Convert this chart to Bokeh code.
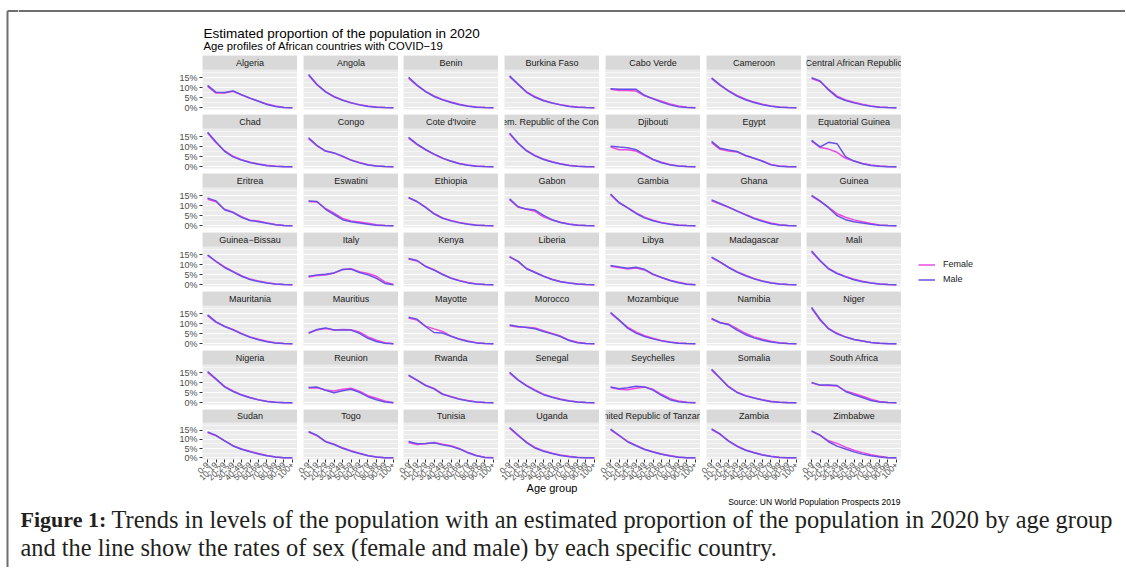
import math
from bokeh.plotting import figure
from bokeh.layouts import row, column
from bokeh.models import (Range1d, FactorRange, FixedTicker, BoxAnnotation, Grid,
                          Legend, LegendItem, PrintfTickFormatter, Span)
from bokeh.core.properties import value
from bokeh.embed import file_html
from bokeh.resources import INLINE

# ---------------- data ----------------
age_groups = ["0-9", "10-19", "20-29", "30-39", "40-49", "50-59",
              "60-69", "70-79", "80-89", "90-99", "100+"]

countries = [
    "Algeria", "Angola", "Benin", "Burkina Faso", "Cabo Verde", "Cameroon", "Central African Republic",
    "Chad", "Congo", "Cote d'Ivoire", "Dem. Republic of the Congo", "Djibouti", "Egypt", "Equatorial Guinea",
    "Eritrea", "Eswatini", "Ethiopia", "Gabon", "Gambia", "Ghana", "Guinea",
    "Guinea\u2212Bissau", "Italy", "Kenya", "Liberia", "Libya", "Madagascar", "Mali",
    "Mauritania", "Mauritius", "Mayotte", "Morocco", "Mozambique", "Namibia", "Niger",
    "Nigeria", "Reunion", "Rwanda", "Senegal", "Seychelles", "Somalia", "South Africa",
    "Sudan", "Togo", "Tunisia", "Uganda", "United Republic of Tanzania", "Zambia", "Zimbabwe",
]

algeria_f = [10.7, 7.3, 7.4, 8.2, 6.4, 4.7, 3.3, 1.8, 0.8, 0.1, 0.0]
algeria_m = [11.2, 7.7, 7.6, 8.4, 6.5, 4.8, 3.2, 1.6, 0.6, 0.1, 0.0]
angola_f = [16.2, 11.4, 8.0, 5.6, 3.9, 2.5, 1.5, 0.8, 0.3, 0.04, 0.0]
angola_m = [16.6, 11.6, 7.9, 5.4, 3.7, 2.4, 1.4, 0.6, 0.2, 0.03, 0.0]
benin_f = [14.8, 11.0, 8.2, 5.9, 4.1, 2.8, 1.7, 0.9, 0.3, 0.05, 0.0]
benin_m = [15.2, 11.3, 8.0, 5.6, 3.9, 2.6, 1.5, 0.7, 0.2, 0.03, 0.0]
burkina_f = [15.5, 11.6, 7.9, 5.5, 3.7, 2.4, 1.5, 0.8, 0.3, 0.04, 0.0]
burkina_m = [15.9, 11.8, 7.7, 5.2, 3.5, 2.3, 1.4, 0.6, 0.2, 0.03, 0.0]
caboverde_f = [9.2, 8.6, 8.6, 8.3, 5.9, 4.6, 3.2, 1.8, 0.9, 0.2, 0.0]
caboverde_m = [9.5, 9.2, 9.2, 9.2, 6.2, 4.4, 2.8, 1.4, 0.5, 0.1, 0.0]
cameroon_f = [14.5, 11.2, 8.5, 6.1, 4.2, 2.8, 1.7, 0.9, 0.3, 0.05, 0.0]
cameroon_m = [14.9, 11.4, 8.3, 5.8, 4.0, 2.6, 1.5, 0.7, 0.2, 0.03, 0.0]
car_f = [14.6, 13.1, 9.2, 5.8, 3.9, 2.7, 1.7, 0.9, 0.3, 0.05, 0.0]
car_m = [15.0, 13.4, 8.9, 5.3, 3.6, 2.4, 1.4, 0.7, 0.2, 0.03, 0.0]
chad_f = [16.8, 12.0, 8.0, 5.2, 3.5, 2.2, 1.3, 0.7, 0.2, 0.03, 0.0]
chad_m = [17.2, 12.3, 7.7, 4.9, 3.3, 2.1, 1.2, 0.5, 0.2, 0.02, 0.0]
congo_f = [14.0, 10.4, 7.8, 6.8, 5.1, 3.3, 2.1, 1.0, 0.4, 0.05, 0.0]
congo_m = [14.4, 10.6, 7.8, 6.9, 5.3, 3.3, 1.9, 0.8, 0.3, 0.03, 0.0]
cotedivoire_f = [14.3, 11.0, 8.4, 6.2, 4.2, 2.8, 1.6, 0.8, 0.3, 0.04, 0.0]
cotedivoire_m = [14.7, 11.3, 8.6, 6.3, 4.3, 2.7, 1.5, 0.7, 0.2, 0.03, 0.0]
drc_f = [16.4, 11.6, 8.1, 5.6, 3.8, 2.5, 1.5, 0.7, 0.2, 0.03, 0.0]
drc_m = [16.8, 11.8, 7.9, 5.4, 3.6, 2.3, 1.3, 0.6, 0.2, 0.02, 0.0]
djibouti_f = [9.8, 8.5, 8.5, 7.8, 5.7, 3.6, 2.2, 1.1, 0.4, 0.05, 0.0]
djibouti_m = [10.2, 9.8, 9.5, 8.5, 6.0, 3.6, 2.0, 0.9, 0.3, 0.04, 0.0]
egypt_f = [12.0, 8.7, 7.9, 7.4, 5.6, 4.2, 2.9, 1.1, 0.3, 0.03, 0.0]
egypt_m = [12.7, 9.2, 8.3, 7.6, 5.6, 4.2, 2.7, 0.9, 0.2, 0.02, 0.0]
eqguinea_f = [12.8, 9.6, 8.8, 7.2, 4.2, 2.8, 1.6, 0.8, 0.3, 0.05, 0.0]
eqguinea_m = [13.2, 9.9, 12.2, 11.5, 5.0, 2.8, 1.5, 0.6, 0.2, 0.02, 0.0]
eritrea_f = [13.2, 12.0, 8.2, 6.8, 4.5, 2.7, 2.3, 1.4, 0.6, 0.1, 0.0]
eritrea_m = [13.8, 12.4, 8.0, 6.6, 4.2, 2.6, 2.0, 1.2, 0.5, 0.08, 0.0]
eswatini_f = [12.1, 11.8, 8.6, 6.3, 3.6, 2.4, 1.8, 1.2, 0.5, 0.1, 0.0]
eswatini_m = [12.4, 12.1, 8.2, 5.6, 3.0, 2.0, 1.3, 0.7, 0.2, 0.03, 0.0]
ethiopia_f = [13.9, 12.0, 9.3, 6.1, 3.9, 2.6, 1.6, 0.8, 0.3, 0.04, 0.0]
ethiopia_m = [14.1, 12.1, 9.2, 5.9, 3.7, 2.4, 1.4, 0.7, 0.2, 0.03, 0.0]
gabon_f = [13.0, 9.3, 8.2, 7.2, 4.4, 2.8, 1.7, 0.9, 0.4, 0.06, 0.0]
gabon_m = [13.4, 9.5, 8.3, 7.8, 5.2, 3.0, 1.6, 0.7, 0.2, 0.03, 0.0]
gambia_f = [15.5, 11.4, 9.0, 6.4, 4.2, 2.7, 1.6, 0.9, 0.3, 0.05, 0.0]
gambia_m = [15.9, 11.6, 8.9, 6.1, 3.9, 2.5, 1.4, 0.7, 0.2, 0.03, 0.0]
ghana_f = [12.4, 10.8, 9.2, 7.4, 5.6, 3.9, 2.5, 1.3, 0.5, 0.08, 0.0]
ghana_m = [12.9, 11.1, 9.3, 7.3, 5.4, 3.6, 2.2, 1.0, 0.4, 0.05, 0.0]
guinea_f = [14.8, 12.2, 9.2, 6.0, 4.2, 2.9, 2.0, 1.1, 0.4, 0.06, 0.0]
guinea_m = [15.2, 12.4, 9.0, 5.0, 3.0, 2.0, 1.3, 0.7, 0.2, 0.03, 0.0]
guineabissau_f = [14.6, 11.6, 8.9, 6.7, 4.5, 2.8, 1.8, 1.0, 0.4, 0.05, 0.0]
guineabissau_m = [14.9, 11.6, 8.6, 6.4, 4.2, 2.6, 1.6, 0.8, 0.3, 0.04, 0.0]
italy_f = [3.9, 4.6, 4.9, 5.8, 7.6, 8.0, 6.5, 5.6, 4.2, 1.4, 0.05]
italy_m = [4.2, 4.9, 5.2, 5.9, 7.6, 7.8, 6.1, 4.9, 3.2, 0.6, 0.02]
kenya_f = [12.9, 11.9, 9.3, 7.5, 5.3, 3.4, 2.1, 1.1, 0.4, 0.07, 0.0]
kenya_m = [13.1, 12.1, 9.1, 7.3, 5.1, 3.2, 1.9, 0.9, 0.3, 0.04, 0.0]
liberia_f = [14.1, 11.5, 8.1, 6.2, 4.3, 2.7, 1.6, 0.9, 0.3, 0.04, 0.0]
liberia_m = [13.8, 11.8, 8.0, 6.1, 4.2, 2.6, 1.5, 0.8, 0.3, 0.04, 0.0]
libya_f = [9.2, 8.6, 7.9, 8.4, 7.4, 5.1, 3.6, 2.2, 1.2, 0.3, 0.0]
libya_m = [9.6, 8.9, 8.2, 8.7, 7.7, 5.3, 3.6, 2.1, 1.0, 0.2, 0.0]
madagascar_f = [13.5, 11.2, 8.8, 6.5, 4.7, 3.1, 1.9, 1.0, 0.4, 0.05, 0.0]
madagascar_m = [13.8, 11.4, 8.6, 6.3, 4.5, 2.9, 1.7, 0.8, 0.3, 0.03, 0.0]
mali_f = [16.4, 11.9, 8.1, 5.8, 4.1, 2.7, 1.7, 0.9, 0.3, 0.05, 0.0]
mali_m = [16.8, 12.1, 7.9, 5.6, 3.9, 2.5, 1.5, 0.8, 0.3, 0.03, 0.0]
mauritania_f = [14.0, 10.7, 8.8, 7.1, 5.1, 3.4, 2.2, 1.2, 0.5, 0.07, 0.0]
mauritania_m = [14.4, 10.9, 8.6, 6.9, 4.9, 3.2, 2.0, 1.0, 0.4, 0.05, 0.0]
mauritius_f = [5.2, 6.9, 7.6, 6.9, 7.1, 7.0, 5.8, 3.4, 1.7, 0.5, 0.01]
mauritius_m = [5.4, 7.1, 7.9, 6.8, 6.9, 6.8, 5.2, 2.7, 1.1, 0.2, 0.0]
mayotte_f = [12.9, 11.8, 8.8, 7.4, 6.1, 3.8, 2.3, 1.3, 0.5, 0.06, 0.0]
mayotte_m = [13.3, 12.2, 8.6, 5.6, 5.3, 3.7, 2.2, 1.1, 0.4, 0.05, 0.0]
morocco_f = [9.0, 8.3, 8.2, 7.9, 6.5, 5.1, 3.8, 1.8, 0.7, 0.1, 0.0]
morocco_m = [9.4, 8.6, 8.1, 7.5, 6.1, 4.9, 3.6, 1.6, 0.5, 0.06, 0.0]
mozambique_f = [15.3, 11.7, 8.3, 5.9, 4.0, 2.7, 1.6, 0.9, 0.3, 0.05, 0.0]
mozambique_m = [15.6, 11.9, 7.8, 5.3, 3.6, 2.4, 1.4, 0.7, 0.2, 0.03, 0.0]
namibia_f = [12.3, 10.4, 9.8, 7.5, 5.2, 3.4, 2.2, 1.2, 0.5, 0.08, 0.0]
namibia_m = [12.6, 10.6, 9.5, 6.8, 4.5, 2.9, 1.7, 0.8, 0.3, 0.04, 0.0]
niger_f = [17.7, 11.8, 7.7, 5.2, 3.4, 2.1, 1.3, 0.6, 0.2, 0.03, 0.0]
niger_m = [18.2, 12.2, 7.4, 4.9, 3.3, 2.1, 1.3, 0.6, 0.2, 0.02, 0.0]
nigeria_f = [15.2, 11.6, 8.2, 5.9, 4.0, 2.6, 1.5, 0.7, 0.2, 0.03, 0.0]
nigeria_m = [15.6, 11.9, 7.9, 5.6, 3.8, 2.5, 1.4, 0.6, 0.2, 0.02, 0.0]
reunion_f = [7.3, 7.5, 6.3, 5.8, 6.7, 7.2, 5.8, 3.5, 2.2, 0.8, 0.02]
reunion_m = [7.6, 7.8, 6.2, 5.0, 6.0, 6.7, 5.2, 3.0, 1.5, 0.35, 0.0]
rwanda_f = [13.6, 11.2, 8.8, 7.1, 4.4, 3.1, 1.9, 1.1, 0.4, 0.06, 0.0]
rwanda_m = [13.8, 11.3, 8.6, 6.9, 4.2, 2.9, 1.7, 0.9, 0.3, 0.04, 0.0]
senegal_f = [14.8, 11.3, 8.7, 6.4, 4.3, 2.9, 1.8, 1.0, 0.4, 0.05, 0.0]
senegal_m = [15.2, 11.4, 8.4, 6.0, 4.0, 2.7, 1.6, 0.8, 0.3, 0.03, 0.0]
seychelles_f = [7.6, 6.7, 6.5, 7.2, 7.8, 6.7, 4.2, 2.0, 0.9, 0.2, 0.0]
seychelles_m = [7.9, 7.0, 7.5, 8.2, 7.9, 6.3, 3.7, 1.5, 0.5, 0.08, 0.0]
somalia_f = [16.3, 12.2, 8.1, 5.3, 3.6, 2.4, 1.5, 0.7, 0.2, 0.03, 0.0]
somalia_m = [16.7, 12.4, 7.9, 5.1, 3.4, 2.3, 1.3, 0.5, 0.2, 0.02, 0.0]
southafrica_f = [9.9, 8.7, 8.6, 8.4, 5.9, 4.6, 3.2, 1.7, 0.6, 0.1, 0.0]
southafrica_m = [10.1, 8.8, 8.8, 8.6, 5.6, 4.0, 2.6, 1.1, 0.3, 0.03, 0.0]
sudan_f = [13.6, 11.9, 9.3, 6.6, 4.8, 3.5, 2.3, 1.2, 0.5, 0.07, 0.0]
sudan_m = [14.0, 12.1, 9.2, 6.4, 4.6, 3.3, 2.1, 1.1, 0.4, 0.05, 0.0]
togo_f = [13.9, 11.9, 8.9, 7.4, 5.4, 3.8, 2.5, 1.3, 0.5, 0.08, 0.0]
togo_m = [14.2, 12.1, 8.7, 7.2, 5.2, 3.6, 2.3, 1.1, 0.4, 0.05, 0.0]
tunisia_f = [8.3, 7.2, 7.6, 8.3, 7.3, 6.5, 5.0, 2.9, 1.3, 0.3, 0.0]
tunisia_m = [8.8, 7.6, 7.8, 8.1, 7.0, 6.2, 4.8, 2.7, 1.1, 0.2, 0.0]
uganda_f = [16.0, 12.0, 8.5, 5.6, 3.8, 2.5, 1.5, 0.8, 0.3, 0.04, 0.0]
uganda_m = [16.4, 12.3, 8.2, 5.3, 3.5, 2.3, 1.3, 0.6, 0.2, 0.03, 0.0]
tanzania_f = [15.1, 12.0, 8.9, 6.7, 4.7, 3.3, 2.1, 1.2, 0.4, 0.06, 0.0]
tanzania_m = [15.5, 12.2, 8.7, 6.5, 4.5, 3.1, 1.9, 1.0, 0.3, 0.04, 0.0]
zambia_f = [15.3, 12.7, 9.2, 6.4, 4.3, 2.9, 1.7, 0.9, 0.3, 0.05, 0.0]
zambia_m = [15.7, 12.9, 9.0, 6.2, 4.1, 2.7, 1.5, 0.7, 0.2, 0.03, 0.0]
zimbabwe_f = [14.3, 12.1, 9.2, 7.8, 5.8, 4.1, 2.8, 1.7, 0.8, 0.15, 0.0]
zimbabwe_m = [14.6, 12.3, 8.7, 6.3, 4.8, 3.2, 2.0, 1.1, 0.5, 0.05, 0.0]

female = [algeria_f, angola_f, benin_f, burkina_f, caboverde_f, cameroon_f, car_f,
          chad_f, congo_f, cotedivoire_f, drc_f, djibouti_f, egypt_f, eqguinea_f,
          eritrea_f, eswatini_f, ethiopia_f, gabon_f, gambia_f, ghana_f, guinea_f,
          guineabissau_f, italy_f, kenya_f, liberia_f, libya_f, madagascar_f, mali_f,
          mauritania_f, mauritius_f, mayotte_f, morocco_f, mozambique_f, namibia_f, niger_f,
          nigeria_f, reunion_f, rwanda_f, senegal_f, seychelles_f, somalia_f, southafrica_f,
          sudan_f, togo_f, tunisia_f, uganda_f, tanzania_f, zambia_f, zimbabwe_f]
male = [algeria_m, angola_m, benin_m, burkina_m, caboverde_m, cameroon_m, car_m,
        chad_m, congo_m, cotedivoire_m, drc_m, djibouti_m, egypt_m, eqguinea_m,
        eritrea_m, eswatini_m, ethiopia_m, gabon_m, gambia_m, ghana_m, guinea_m,
        guineabissau_m, italy_m, kenya_m, liberia_m, libya_m, madagascar_m, mali_m,
        mauritania_m, mauritius_m, mayotte_m, morocco_m, mozambique_m, namibia_m, niger_m,
        nigeria_m, reunion_m, rwanda_m, senegal_m, seychelles_m, somalia_m, southafrica_m,
        sudan_m, togo_m, tunisia_m, uganda_m, tanzania_m, zambia_m, zimbabwe_m]

y_ticks = [0, 5, 10, 15]
y_minor = [2.5, 7.5, 12.5, 17.5]

title_text = "Estimated proportion of the population in 2020"
subtitle_text = "Age profiles of African countries with COVID\u221219"
x_title = "Age group"
source_text = "Source: UN World Population Prospects 2019"
caption_bold = "Figure 1:"
caption_1 = "Trends in levels of the population with an estimated proportion of the population in 2020 by age group"
caption_2 = "and the line show the rates of sex (female and male) by each specific country."

# ---------------- style / layout ----------------
FONT = "Liberation Sans"
SERIF = "Liberation Serif"
FEMALE_COLOR = "#EA4BDF"
MALE_COLOR = "#6A4FE6"
PANEL_BG = "#EBEBEB"
STRIP_BG = "#D9D9D9"
BORDER = "#6E6E6E"
CAPTION_COLOR = "#231F20"

ymax = max(max(v) for v in female + male)
pad = 0.05 * ymax
Y0, Y1 = -pad, ymax + pad
PANEL_H, STRIP_H, FRAME_W = 40, 14, 95
Y_TOP = Y1 + STRIP_H * (Y1 - Y0) / PANEL_H

LEFT_W = 18
col_left = [184, 6, 5, 6, 6, 6, 5]
col_widths = [l + FRAME_W for l in col_left]
ROW_GAP, BOTTOM_AXIS = 5, 34
HEADER_H = 55
MID_H = 6 * (STRIP_H + PANEL_H + ROW_GAP) + STRIP_H + PANEL_H + BOTTOM_AXIS
TOTAL_H = 567
FOOTER_H = TOTAL_H - HEADER_H - MID_H
RIGHT_W = 1125 - LEFT_W
LEGEND_W = RIGHT_W - sum(col_widths)
FOOT_Y0 = HEADER_H + MID_H   # page y of footer top


def no_grid(f):
    f.center = [x for x in f.center if not isinstance(x, Grid)]


def style_axis(ax):
    ax.axis_line_color = None
    ax.major_tick_line_color = "#333333"
    ax.major_tick_out = 3
    ax.major_tick_in = 0
    ax.minor_tick_line_color = None
    ax.major_label_text_font = FONT
    ax.major_label_text_color = "#4D4D4D"


def make_panel(r, c, name, fv, mv):
    bottom = (r == 6)
    left = (c == 0)
    h = STRIP_H + PANEL_H + (BOTTOM_AXIS if bottom else ROW_GAP)
    p = figure(width=col_widths[c], height=h,
               x_range=FactorRange(*age_groups, range_padding=0.1, range_padding_units="absolute"),
               y_range=Range1d(Y0, Y_TOP),
               x_axis_location="below" if bottom else None,
               y_axis_location="left" if left else None,
               toolbar_location=None, tools="", output_backend="svg")
    p.min_border_left = col_left[c]
    p.min_border_right = 0
    p.min_border_top = 0
    p.min_border_bottom = h - STRIP_H - PANEL_H
    p.background_fill_color = PANEL_BG
    p.border_fill_color = None
    p.outline_line_color = None
    no_grid(p)
    p.add_layout(Grid(dimension=1, ticker=FixedTicker(ticks=y_ticks, minor_ticks=y_minor),
                      grid_line_color="white", grid_line_width=1.1,
                      minor_grid_line_color="white", minor_grid_line_width=0.5))
    p.add_layout(BoxAnnotation(bottom=Y1, fill_color=STRIP_BG, fill_alpha=1.0,
                               line_color=None, level="underlay"))
    p.text(x=[age_groups[5]], y=[(Y1 + Y_TOP) / 2], text=[name],
           text_align="center", text_baseline="middle", text_font=value(FONT),
           text_font_size="9px", text_color="#1A1A1A")
    p.line(age_groups, fv, line_color=FEMALE_COLOR, line_width=1.5)
    p.line(age_groups, mv, line_color=MALE_COLOR, line_width=1.5)
    for ax in p.axis:
        style_axis(ax)
    if left:
        p.yaxis.ticker = FixedTicker(ticks=y_ticks)
        p.yaxis.formatter = PrintfTickFormatter(format="%d%%")
        p.yaxis.major_label_text_font_size = "9px"
        p.yaxis.major_label_standoff = 2
    if bottom:
        p.xaxis.major_label_orientation = math.pi / 4
        p.xaxis.major_label_text_font_size = "8.5px"
        p.xaxis.major_label_standoff = 1
        if c == 3:
            p.xaxis.axis_label = x_title
            p.xaxis.axis_label_text_font = FONT
            p.xaxis.axis_label_text_font_size = "11px"
            p.xaxis.axis_label_text_font_style = "normal"
            p.xaxis.axis_label_text_color = "black"
            p.xaxis.axis_label_standoff = -4
    return p


rows = []
for r in range(7):
    figs = []
    for c in range(7):
        i = r * 7 + c
        figs.append(make_panel(r, c, countries[i], female[i], male[i]))
    rows.append(row(*figs))
grid_block = column(*rows)

# legend figure
lf = figure(width=LEGEND_W, height=MID_H, x_range=Range1d(0, 1), y_range=Range1d(0, 1),
            x_axis_location=None, y_axis_location=None,
            toolbar_location=None, tools="", output_backend="svg")
lf.min_border_left = lf.min_border_right = lf.min_border_top = lf.min_border_bottom = 0
lf.outline_line_color = None
no_grid(lf)
# legend proxies (kept outside the visible range)
rf = lf.line(x=[0, 1], y=[-5, -5], line_color=FEMALE_COLOR, line_width=1.5)
rm = lf.line(x=[0, 1], y=[-5, -5], line_color=MALE_COLOR, line_width=1.5)
legend = Legend(items=[LegendItem(label="Female", renderers=[rf]),
                       LegendItem(label="Male", renderers=[rm])],
                location=(17, MID_H - (264 - HEADER_H) - 22.5), orientation="vertical",
                glyph_width=17, glyph_height=15, label_height=15, label_standoff=8,
                padding=0, spacing=0, margin=0, border_line_color=None,
                background_fill_alpha=0, label_text_font=FONT,
                label_text_font_size="9px", label_text_color="#1A1A1A")
lf.add_layout(legend)

middle = row(grid_block, lf)


def canvas(w, h):
    f = figure(width=w, height=h, x_range=Range1d(0, w), y_range=Range1d(h, 0),
               x_axis_location=None, y_axis_location=None,
               toolbar_location=None, tools="", output_backend="svg")
    f.min_border_left = f.min_border_right = f.min_border_top = f.min_border_bottom = 0
    f.outline_line_color = None
    f.background_fill_color = "white"
    no_grid(f)
    return f


# header (origin: x=18, y=0)
hf = canvas(RIGHT_W, HEADER_H)
hf.add_layout(Span(location=10.5, dimension="width", line_color=BORDER, line_width=2))
hf.text(x=[185], y=[33], text=[title_text], text_font=value(FONT), text_font_size="13.5px",
        text_color="black", text_baseline="middle", text_align="left")
hf.text(x=[185], y=[45.5], text=[subtitle_text], text_font=value(FONT), text_font_size="11.25px",
        text_color="black", text_baseline="middle", text_align="left")

# footer (origin: x=18, y=FOOT_Y0)
ff = canvas(RIGHT_W, FOOTER_H)
ff.text(x=[882], y=[501.5 - FOOT_Y0], text=[source_text], text_font=value(FONT), text_font_size="8.5px",
        text_color="black", text_baseline="middle", text_align="right")
ff.text(x=[2], y=[519 - FOOT_Y0], text=[caption_bold], text_font=value(SERIF), text_font_size="22px",
        text_font_style="bold", text_color=CAPTION_COLOR, text_baseline="alphabetic", text_align="left")
ff.text(x=[93], y=[519 - FOOT_Y0], text=[caption_1], text_font=value(SERIF), text_font_size="24.4px",
        text_color=CAPTION_COLOR, text_baseline="alphabetic", text_align="left")
ff.text(x=[2], y=[547 - FOOT_Y0], text=[caption_2], text_font=value(SERIF), text_font_size="24.4px",
        text_color=CAPTION_COLOR, text_baseline="alphabetic", text_align="left")

right_side = column(hf, middle, ff)

# left border strip (origin 0,0)
bf = canvas(LEFT_W, TOTAL_H)
bf.segment(x0=[7, 7], y0=[10.5, 10.5], x1=[7, LEFT_W], y1=[TOTAL_H, 10.5],
           line_color=BORDER, line_width=2)

layout = row(bf, right_side)

open("out.html", "w").write(file_html(layout, INLINE))
